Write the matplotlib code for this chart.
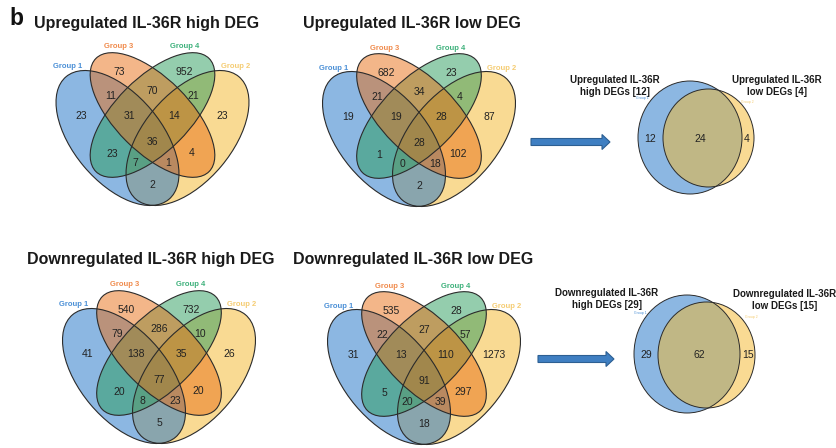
import matplotlib
matplotlib.use("Agg")
import matplotlib.pyplot as plt
from matplotlib.patches import Ellipse, FancyArrow

plt.rcParams['font.family'] = ['Liberation Sans', 'DejaVu Sans']

# region order: G1, G3, G4, G2, G13, G34, G24, G134, G234, G1234, G14, G23, G124, G123, G12
up_high = [23, 73, 952, 23, 11, 70, 21, 31, 14, 36, 23, 4, 7, 1, 2]
up_low = [19, 682, 23, 87, 21, 34, 4, 19, 28, 28, 1, 102, 0, 18, 2]
down_high = [41, 540, 732, 26, 79, 286, 10, 138, 35, 77, 20, 20, 8, 23, 5]
down_low = [31, 535, 28, 1273, 22, 27, 57, 13, 110, 91, 5, 297, 20, 39, 18]

quad_titles = ["Upregulated IL-36R high DEG", "Upregulated IL-36R low DEG",
               "Downregulated IL-36R high DEG", "Downregulated IL-36R low DEG"]
group_names = ["Group 1", "Group 3", "Group 4", "Group 2"]

up_pair = [12, 24, 4]
down_pair = [29, 62, 15]
up_pair_titles = ["Upregulated IL-36R\nhigh DEGs [12]", "Upregulated IL-36R\nlow DEGs [4]"]
down_pair_titles = ["Downregulated IL-36R\nhigh DEGs [29]", "Downregulated IL-36R\nlow DEGs [15]"]

# colours
c_blue = "#1b71c7"
c_orange = "#e96f15"
c_green = "#2a9c5c"
c_yellow = "#f5b729"
lab_cols = ["#4a8fd6", "#f08a4b", "#3cb07a", "#f5cc72"]

# offsets of the region labels from the centre of each quad venn (pixels, y down)
reg_off = [(-71, -26), (-33, -70), (32, -70), (70, -26), (-42, -46), (0, -51), (41, -46),
           (-23, -26), (22, -26), (0, 0), (-40, 12), (39, 11), (-17, 21), (16, 21), (0, 43)]
grp_off = [(-85, -75), (-34, -95), (32, -95), (83, -75)]

fig = plt.figure(figsize=(8.36, 4.48), dpi=100)
ax = fig.add_axes([0, 0, 1, 1])
ax.set_xlim(0, 836)
ax.set_ylim(448, 0)
ax.axis('off')


def quad_venn(cx, cy, counts, title, tx, ty):
    # (dx, dy, a, b, angle, colour) -- yellow, blue, green, orange drawing order
    ells = [(35, -4, 80, 44, 130, c_yellow),
            (-35, -4, 80, 44, 50, c_blue),
            (0, -27, 80, 37, 135, c_green),
            (0, -27, 80, 37, 45, c_orange)]
    for dx, dy, a, b, ang, col in ells:
        ax.add_patch(Ellipse((cx + dx, cy + dy), 2 * a, 2 * b, angle=ang,
                             facecolor=col, alpha=0.5, edgecolor='none'))
    for dx, dy, a, b, ang, col in ells:
        ax.add_patch(Ellipse((cx + dx, cy + dy), 2 * a, 2 * b, angle=ang,
                             facecolor='none', edgecolor='#2b2b2b', lw=0.8))
    for (ox, oy), n in zip(reg_off, counts):
        ax.text(cx + ox, cy + oy, str(n), ha='center', va='center', fontsize=7.5, color='#222222')
    for (ox, oy), g, col in zip(grp_off, group_names, lab_cols):
        ax.text(cx + ox, cy + oy, g, ha='center', va='center', fontsize=5.5,
                color=col, fontweight='bold')
    ax.text(tx, ty, title, ha='center', va='baseline', fontsize=11.5, fontweight='bold',
            color='#1a1a1a')


def pair_venn(e1, e2, counts, lab_x, lab_y, titles, tpos, gpos):
    # e = (centre, width, height); the pair is a little squashed sideways
    for (c, w, h), col in [(e1, c_blue), (e2, c_yellow)]:
        ax.add_patch(Ellipse(c, w, h, facecolor=col, alpha=0.5, edgecolor='none'))
    for c, w, h in [e1, e2]:
        ax.add_patch(Ellipse(c, w, h, facecolor='none', edgecolor='#2b2b2b', lw=0.7))
    for x, n in zip(lab_x, counts):
        ax.text(x, lab_y, str(n), ha='center', va='center', fontsize=7.5, color='#222222')
    for (x, y), t in zip(tpos, titles):
        ax.text(x, y, t, ha='center', va='center', fontsize=7, fontweight='bold',
                color='#1a1a1a', linespacing=1.15)
    ax.text(gpos[0][0], gpos[0][1], "Group 1", ha='center', va='center', fontsize=2.5, color=lab_cols[0])
    ax.text(gpos[1][0], gpos[1][1], "Group 2", ha='center', va='center', fontsize=2.5, color=lab_cols[3])


quad_venn(152.5, 142, up_high, quad_titles[0], 147, 28)
quad_venn(419, 143, up_low, quad_titles[1], 412, 28)
quad_venn(159, 380, down_high, quad_titles[2], 151, 264)
quad_venn(424, 381, down_low, quad_titles[3], 413, 264)

pair_venn(((690, 137.5), 104, 113), ((708.5, 138), 91, 98), up_pair, [650, 700, 747], 139,
          up_pair_titles, [(615, 86), (777, 86)], [(642, 98), (747, 102)])
pair_venn(((687, 354), 106, 118), ((706.5, 355), 97, 106), down_pair, [646, 699, 748], 355,
          down_pair_titles, [(607, 299), (785, 300)], [(640, 313), (751, 317)])

for x0, x1, y in [(531, 610, 142), (538, 614, 359)]:
    ax.add_patch(FancyArrow(x0, y, x1 - x0, 0, width=7, head_width=15, head_length=8,
                            length_includes_head=True, facecolor='#3f7fc2',
                            edgecolor='#2d5f92', lw=0.8))

ax.text(9, 25, "b", ha='left', va='baseline', fontsize=16.5, fontweight='bold', color='#111111')

fig.savefig("out.png", dpi=100)
